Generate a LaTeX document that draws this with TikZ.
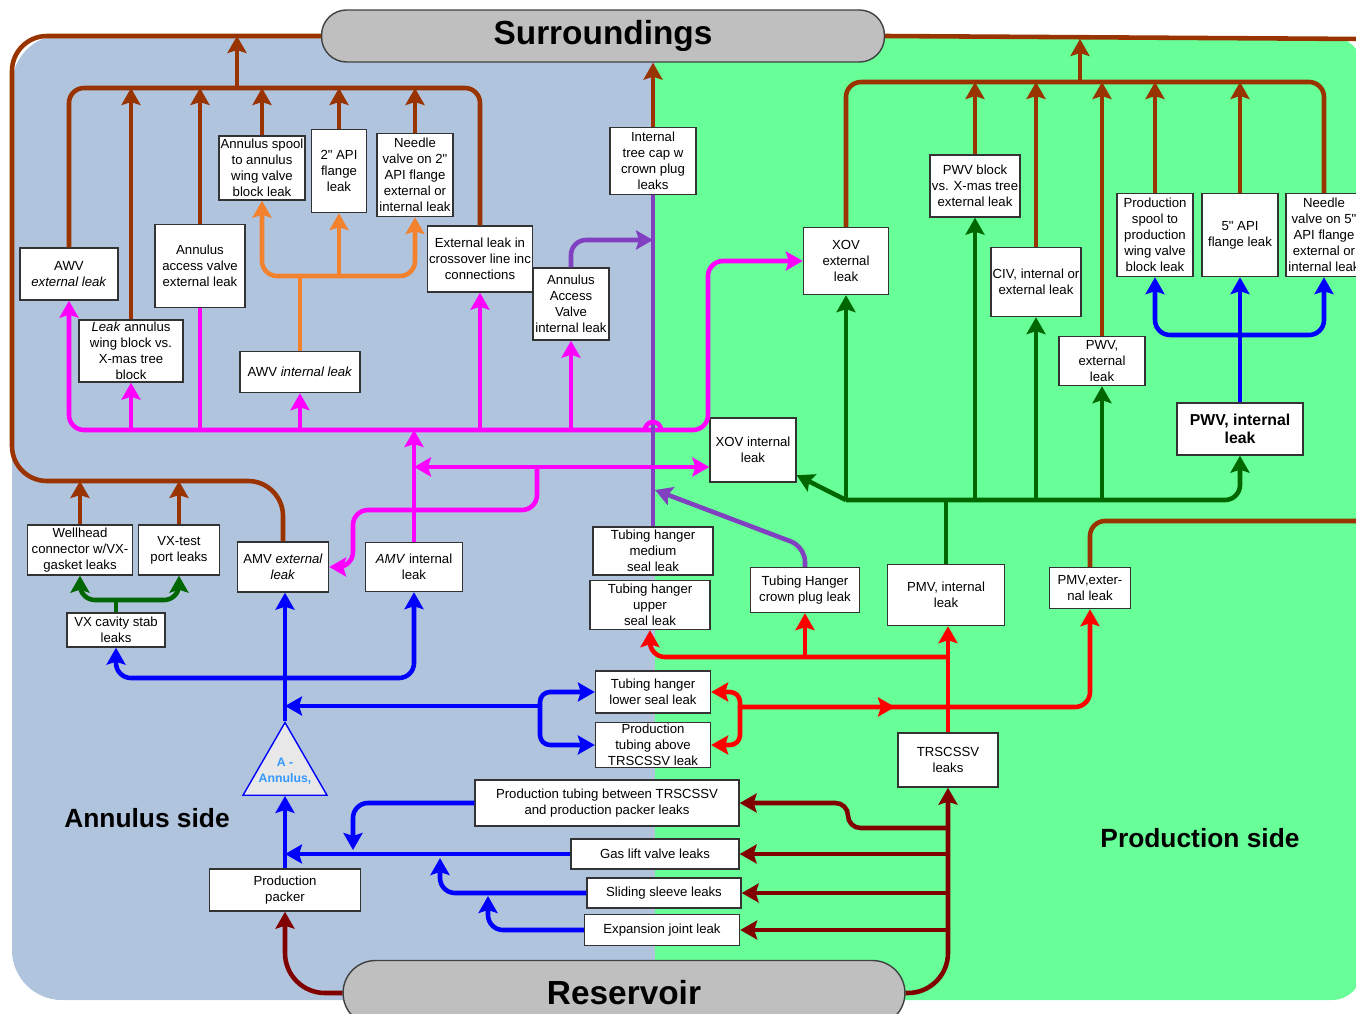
\documentclass[tikz,border=0pt]{standalone}
\usepackage{fontspec}
\setmainfont{Liberation Sans}
\usetikzlibrary{arrows.meta, shapes.geometric, calc}
\definecolor{annbg}{RGB}{176, 196, 222}
\definecolor{prodbg}{RGB}{104, 255, 152}
\definecolor{pillgray}{RGB}{191, 191, 191}
\definecolor{brn}{RGB}{153, 51, 0}
\definecolor{dred}{RGB}{128, 0, 0}
\definecolor{mag}{RGB}{255, 0, 255}
\definecolor{org}{RGB}{242, 130, 46}
\definecolor{purp}{RGB}{128, 64, 192}
\definecolor{dgrn}{RGB}{0, 102, 0}
\definecolor{blu}{RGB}{0, 0, 255}
\definecolor{rd}{RGB}{255, 0, 0}
\definecolor{trifill}{RGB}{232, 232, 232}
\definecolor{tritext}{RGB}{51, 153, 255}
\newcommand{\lkfont}{\fontsize{7.5}{9.1}\selectfont}
\tikzset{
    lktip/.tip={Stealth[length=3.4mm, width=3.8mm, inset=0.6mm]},
    box/.style={rectangle, draw=black!80, line width=0.8pt, fill=white, align=center, font=\lkfont, inner sep=1pt},
    pill/.style={rectangle, rounded corners=0.5cm, draw=black!75, line width=0.8pt, fill=pillgray, font=\fontsize{19}{21}\selectfont\bfseries},
    sidelbl/.style={font=\fontsize{15}{17}\selectfont\bfseries},
    tri/.style={regular polygon, regular polygon sides=3, minimum size=1.94cm, inner sep=0pt, draw=blu, line width=0.8pt, fill=trifill},
    tritxt/.style={align=center, text=tritext, font=\fontsize{7}{9}\selectfont\bfseries},
    lkline/.style={line width=2.6pt, rounded corners=0.3cm},
    arr/.style={lkline, -lktip},
    arrs/.style={lkline, lktip-lktip}
}

\begin{document}
\begin{tikzpicture}[x=0.02cm, y=-0.02cm]
\useasboundingbox (0,0) rectangle (1356,1014);
\fill[white] (0,0) rectangle (1356,1014);
% the two sides
\fill[annbg, rounded corners=1cm] (655,1000) -- (12,1000) -- (12,35) -- (655,35);
\fill[prodbg, rounded corners=0.6cm] (655,37) -- (1362,37) -- (1362,1000) -- (655,1000);

\node[pill, minimum width=11.26cm, minimum height=1.04cm] (sur) at (603,36) {Surroundings};
\node[pill, minimum width=11.24cm, minimum height=1.3cm, rounded corners=0.65cm] (res) at (624,993) {Reservoir};

% annulus side
\node[box, minimum width=1.96cm, minimum height=1.04cm] (awvext) at (69,274) {AWV\\\textit{external leak}};
\node[box, minimum width=2.08cm, minimum height=1.24cm] (leakwb) at (131,351) {\textit{Leak} annulus\\wing block vs.\\X-mas tree\\block};
\node[box, minimum width=1.8cm, minimum height=1.66cm] (aavext) at (200,266) {Annulus\\access valve\\external leak};
\node[box, minimum width=1.7cm, minimum height=1.28cm] (aspool) at (262,168) {Annulus spool\\to annulus\\wing valve\\block leak};
\node[box, minimum width=1.1cm, minimum height=1.66cm] (api2) at (339,171) {2\textquotedbl{} API\\flange\\leak};
\node[box, minimum width=1.52cm, minimum height=1.66cm] (ndl2) at (415,175) {Needle\\valve on 2\textquotedbl\\API flange\\external or\\internal leak};
\node[box, minimum width=1.98cm, minimum height=1.32cm] (xover) at (480,259) {External leak in\\crossover line inc\\connections};
\node[box, minimum width=2.4cm, minimum height=0.82cm] (awvint) at (300,372) {AWV \textit{internal leak}};
\node[box, minimum width=1.52cm, minimum height=1.44cm] (aavint) at (571,304) {Annulus\\Access\\Valve\\internal leak};
\node[box, minimum width=1.72cm, minimum height=1.34cm] (itc) at (653,161) {Internal\\tree cap w\\crown plug\\leaks};
\node[box, minimum width=2.1cm, minimum height=1.0cm] (wellhd) at (80,550) {Wellhead\\connector w/VX-\\gasket leaks};
\node[box, minimum width=1.62cm, minimum height=1.0cm] (vxtest) at (179,550) {VX-test\\port leaks};
\node[box, minimum width=1.82cm, minimum height=1.0cm] (amvext) at (283,567) {AMV \textit{external}\\\textit{leak}};
\node[box, minimum width=1.94cm, minimum height=0.98cm] (amvint) at (414,567) {\textit{AMV} internal\\leak};
\node[box, minimum width=1.96cm, minimum height=0.68cm] (vxcav) at (116,630) {VX cavity stab\\leaks};
\node[box, minimum width=2.4cm, minimum height=0.96cm] (thmed) at (653,551) {Tubing hanger\\medium\\seal leak};
\node[box, minimum width=2.4cm, minimum height=0.98cm] (thup) at (650,605) {Tubing hanger\\upper\\seal leak};
\node[box, minimum width=2.3cm, minimum height=0.84cm] (thlow) at (653,692) {Tubing hanger\\lower seal leak};
\node[box, minimum width=2.3cm, minimum height=0.9cm] (ptabove) at (653,745) {Production\\tubing above\\TRSCSSV leak};
\node[box, minimum width=5.28cm, minimum height=0.92cm] (ptbetw) at (607,803) {Production tubing between TRSCSSV\\and production packer leaks};
\node[box, minimum width=3.36cm, minimum height=0.6cm] (gaslift) at (655,854) {Gas lift valve leaks};
\node[box, minimum width=3.08cm, minimum height=0.6cm] (sliding) at (664,893) {Sliding sleeve leaks};
\node[box, minimum width=3.1cm, minimum height=0.62cm] (expjt) at (662,930) {Expansion joint leak};
\node[box, minimum width=3.02cm, minimum height=0.84cm] (packer) at (285,890) {Production\\packer};
\node[tri, label={[tritxt]center:{A -\\Annulus,}}] (aann) at (285,771) {};
\node[sidelbl] (annlbl) at (147,818) {Annulus side};

% production side
\node[box, minimum width=1.7cm, minimum height=1.34cm] (xovext) at (846,261) {XOV\\external\\leak};
\node[box, minimum width=1.72cm, minimum height=1.28cm] (xovint) at (753,450) {XOV internal\\leak};
\node[box, minimum width=1.78cm, minimum height=1.24cm] (pwvblk) at (975,186) {PWV block\\vs. X-mas tree\\external leak};
\node[box, minimum width=1.72cm, minimum height=1.38cm] (civ) at (1036,282) {CIV, internal or\\external leak};
\node[box, minimum width=1.72cm, minimum height=0.98cm] (pwvext) at (1102,361) {PWV,\\external\\leak};
\node[box, minimum width=1.52cm, minimum height=1.66cm] (pspool) at (1155,235) {Production\\spool to\\production\\wing valve\\block leak};
\node[box, minimum width=1.52cm, minimum height=1.66cm] (api5) at (1240,235) {5\textquotedbl{} API\\flange leak};
\node[box, minimum width=1.52cm, minimum height=1.66cm] (ndl5) at (1324,235) {Needle\\valve on 5\textquotedbl\\API flange\\external or\\internal leak};
\node[box, font=\fontsize{9}{10.5}\selectfont\bfseries, minimum width=2.52cm, minimum height=1.04cm] (pwvint) at (1240,429) {PWV, internal\\leak};
\node[box, minimum width=2.18cm, minimum height=0.9cm] (thcrown) at (805,590) {Tubing Hanger\\crown plug leak};
\node[box, minimum width=2.34cm, minimum height=1.22cm] (pmvint) at (946,595) {PMV, internal\\leak};
\node[box, minimum width=1.62cm, minimum height=0.82cm] (pmvext) at (1090,588) {PMV,exter-\\nal leak};
\node[box, minimum width=2.0cm, minimum height=1.08cm] (trs) at (948,760) {TRSCSSV\\leaks};
\node[sidelbl] (prodlbl) at (1200,838) {Production side};

% to the surroundings
\coordinate (obl) at (12,481); \coordinate (blb) at (237,88);
\coordinate (ore) at (1362,39); \coordinate (brb) at (1080,82); \coordinate (pme) at (1362,521);
\draw[lkline, brn, rounded corners=0.7cm] (sur.west) -| (obl) -| (amvext.north);
\draw[lkline, brn] (awvext.north) |- (blb) -| (xover.north);
\draw[arr, brn] (blb) -- (blb |- sur.west);
\draw[arr, brn] (leakwb.north) -- (leakwb.north |- blb); \draw[arr, brn] (aavext.north) -- (aavext.north |- blb);
\draw[arr, brn] (aspool.north) -- (aspool.north |- blb); \draw[arr, brn] (api2.north) -- (api2.north |- blb);
\draw[arr, brn] (ndl2.north) -- (ndl2.north |- blb);
\draw[arr, brn] (wellhd.north) -- (wellhd.north |- obl); \draw[arr, brn] (vxtest.north) -- (vxtest.north |- obl);
\draw[arr, brn] (itc.north) -- (itc.north |- sur.south);
\draw[lkline, brn] (sur.east) -- (ore);
\draw[lkline, brn] (xovext.north) |- (brb) -| (ndl5.north);
\draw[arr, brn] (brb) -- (brb |- ore);
\draw[arr, brn] (pwvblk.north) -- (pwvblk.north |- brb); \draw[arr, brn] (civ.north) -- (civ.north |- brb);
\draw[arr, brn] (pwvext.north) -- (pwvext.north |- brb); \draw[arr, brn] (pspool.north) -- (pspool.north |- brb);
\draw[arr, brn] (api5.north) -- (api5.north |- brb);
\draw[lkline, brn] (pmvext.north) |- (pme);

% magenta bus
\coordinate (mj) at (708,430);
\draw[arrs, mag] (awvext.south) |- (mj) |- (xovext.west);
\draw[arr, mag] (leakwb.south |- mj) -- (leakwb.south); \draw[lkline, mag] (aavext.south) -- (aavext.south |- mj);
\draw[arr, mag] (awvint.south |- mj) -- (awvint.south); \draw[arr, mag] (xover.south |- mj) -- (xover.south);
\draw[arr, mag] (aavint.south |- mj) -- (aavint.south); \draw[arr, mag] (amvint.north) -- (amvint.north |- mj);

% purple
\coordinate (pj) at (653,240); \coordinate (pj2) at (655,490);
\draw[lkline, purp] (itc.south) -- (thmed.north);
\draw[arr, purp] (aavint.north) |- (pj);
\draw[arr, purp] (thcrown.north) -- ++(0,-20) -- (pj2);
\draw[lkline, mag] (645,430) arc[start angle=180, end angle=360, radius=8];

\coordinate (mk) at (414,467); \coordinate (mk2) at (537,467);
\draw[arrs, mag] (mk) -- (xovint.west |- mk);
\draw[arr, mag] (mk2) |- (353,510) |- (amvext.east);

% orange
\coordinate (oj) at (300,276);
\draw[lkline, org] (awvint.north) -- (oj);
\draw[arr, org] (oj) -| (aspool.south); \draw[arr, org] (oj) -| (ndl2.south); \draw[arr, org] (api2.south |- oj) -- (api2.south);

% dark green
\coordinate (gbus) at (944,500); \coordinate (vj) at (116,600);
\draw[lkline, dgrn] (pmvint.north) -- (pmvint.north |- gbus);
\draw[arr, dgrn] (xovext.south |- gbus) -| (pwvint.south);
\draw[arr, dgrn] (xovext.south |- gbus) -- (xovext.south); \draw[arr, dgrn] (xovext.south |- gbus) -- (xovint.-30);
\draw[arr, dgrn] (pwvblk.south |- gbus) -- (pwvblk.south); \draw[arr, dgrn] (civ.south |- gbus) -- (civ.south);
\draw[arr, dgrn] (pwvext.south |- gbus) -- (pwvext.south);
\draw[lkline, dgrn] (vxcav.north) -- (vj);
\draw[arr, dgrn] (vj) -| (wellhd.south); \draw[arr, dgrn] (vj) -| (vxtest.south);

% blue
\coordinate (bj) at (1240,335); \coordinate (bk) at (285,678);
\coordinate (bk2) at (285,706); \coordinate (bk3) at (540,706);
\coordinate (bq1) at (353,850); \coordinate (bq2) at (440,858); \coordinate (bq3) at (488,896);
\draw[lkline, blu] (pwvint.north) -- (bj);
\draw[arr, blu] (bj) -| (pspool.south); \draw[arr, blu] (bj) -| (ndl5.south); \draw[arr, blu] (bj) -- (api5.south);
\draw[arr, blu] (aann.north) -- (aann.north |- amvext.south);
\draw[arr, blu] (bk) -| (vxcav.south); \draw[arr, blu] (bk) -| (amvint.south);
\draw[arr, blu] (bk3) -- (bk2);
\draw[arr, blu, rounded corners=0.2cm] (bk3) |- (thlow.west); \draw[arr, blu, rounded corners=0.2cm] (bk3) |- (ptabove.west);
\draw[arr, blu] (packer.north) -- (aann.south);
\draw[arr, blu] (gaslift.west) -- (gaslift.west -| aann.south);
\draw[arr, blu] (ptbetw.west) -| (bq1); \draw[arr, blu] (sliding.west) -| (bq2); \draw[arr, blu] (expjt.west) -| (bq3);

% red
\coordinate (rj) at (948,657); \coordinate (rk) at (740,707); \coordinate (rmid) at (895,707);
\draw[arr, rd] (trs.north) -- (trs.north |- pmvint.south);
\draw[arr, rd] (rj) -| (thup.south); \draw[arr, rd] (thcrown.south |- rj) -- (thcrown.south);
\draw[arr, rd] (rk) -| (pmvext.south); \draw[arr, rd] (rk) -- (rmid);
\draw[arr, rd, rounded corners=0.2cm] (rk) |- (thlow.east); \draw[arr, rd, rounded corners=0.2cm] (rk) |- (ptabove.east);

% from the reservoir
\coordinate (dq) at (948,828);
\draw[arr, dred, rounded corners=0.8cm] (res.east) -| (trs.south);
\draw[arr, dred] (trs.south |- expjt.east) -- (expjt.east); \draw[arr, dred] (trs.south |- sliding.east) -- (sliding.east);
\draw[arr, dred] (trs.south |- gaslift.east) -- (gaslift.east);
\draw[arr, dred, rounded corners=0.25cm] (dq) -- (848,828) |- (ptbetw.east);
\draw[arr, dred, rounded corners=0.8cm] (res.west) -| (packer.south);
\end{tikzpicture}
\end{document}
